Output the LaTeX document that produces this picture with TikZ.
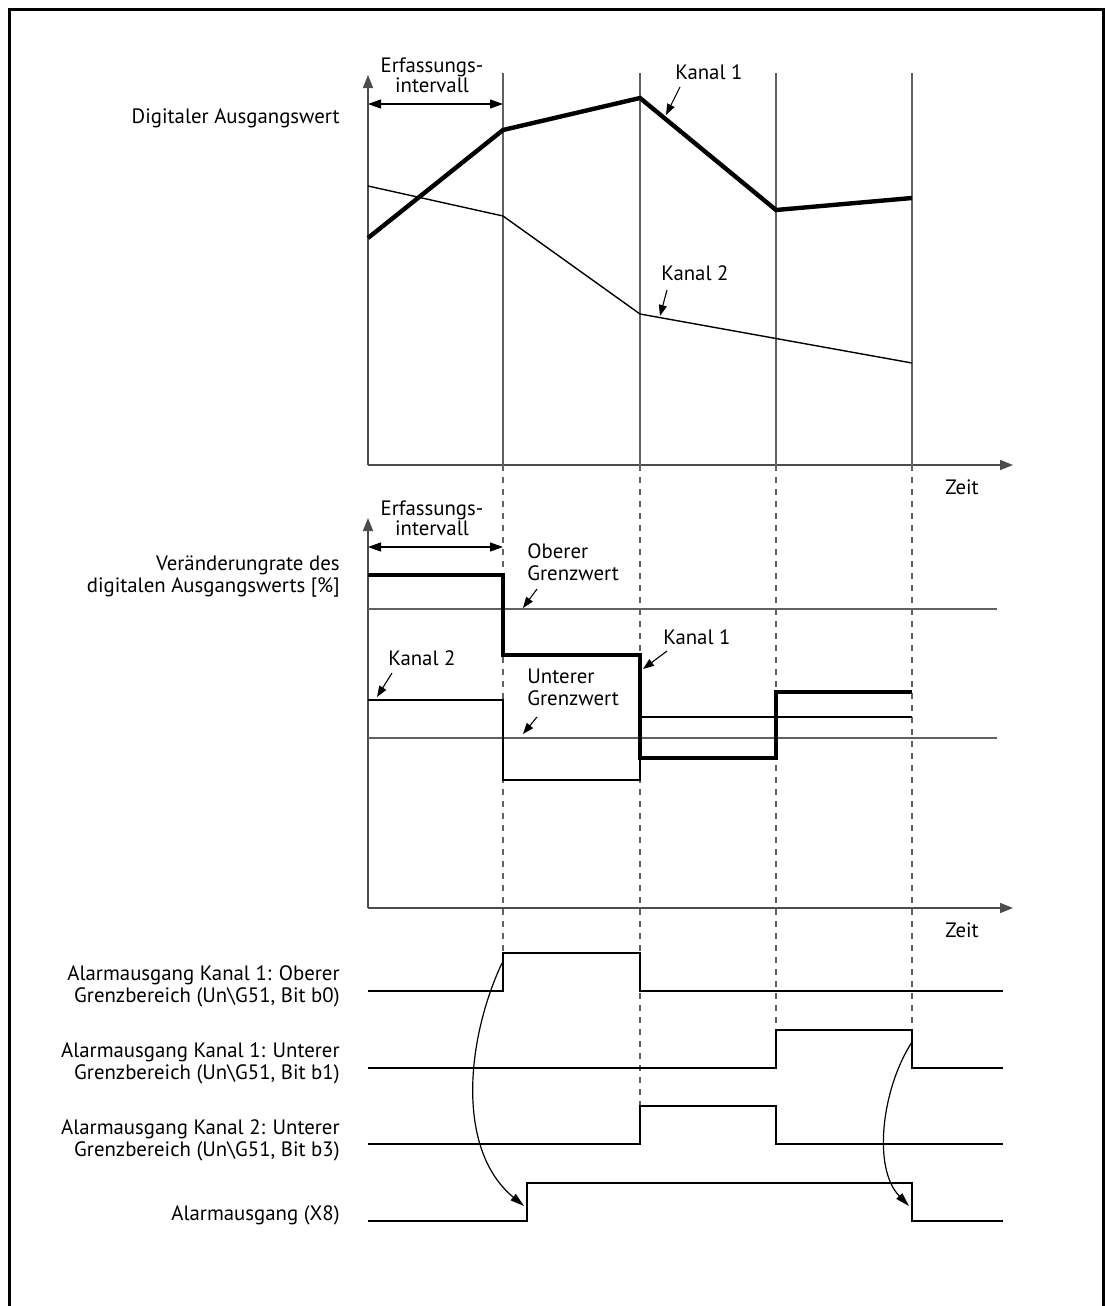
\documentclass[tikz,border=0pt]{standalone}
\usepackage{fontspec}
\setmainfont{PT Sans}
\usetikzlibrary{arrows.meta}
\definecolor{axisgray}{gray}{0.30}
\definecolor{gridgray}{gray}{0.38}
\begin{document}
\begin{tikzpicture}[x=0.5pt,y=-0.5pt,
  font=\fontsize{10.4}{11}\selectfont,
  axis/.style={draw=axisgray, line width=0.8pt, -{Triangle[length=6.5pt,width=5pt]}},
  gridline/.style={draw=gridgray, line width=0.7pt},
  griddash/.style={draw=gridgray, line width=0.7pt, dash pattern=on 3pt off 3pt},
  chthick/.style={line width=2.2pt, line join=miter},
  chthin/.style={line width=0.7pt},
  limitline/.style={draw=gridgray, line width=0.7pt},
  sigline/.style={line width=1pt},
  lbl/.style={inner sep=0pt},
  pointer/.style={-{Triangle[length=5.5pt,width=4pt]}, line width=0.55pt},
  spanarrow/.style={{Triangle[length=6.5pt,width=4.5pt]}-{Triangle[length=6.5pt,width=4.5pt]}, line width=0.6pt},
  curvearrow/.style={-{Triangle[length=7pt,width=4pt]}, line width=0.6pt},
]
\useasboundingbox (0,0) rectangle (1105,1306);

% outer frame, open at the bottom
\draw[line width=1.5pt] (9,1306) -- (9,9) -- (1103,9) -- (1103,1306);

% ---------------- upper chart: digital output value ----------------
\coordinate (o1) at (368,465);
\coordinate (y1top) at (368,75);
\coordinate (x1end) at (1013,465);
\draw[axis] (o1) -- (y1top);
\draw[axis] (o1) -- (x1end);

% sampling instants: solid in the upper chart, dashed below it
\foreach \x/\e in {503/953, 640/1106, 776/1030, 912/1030}{
  \draw[gridline] (\x,73) -- (\x,465);
  \draw[griddash] (\x,465) -- (\x,\e);
}

% channel curves
\draw[chthick] (368,238) -- (503,130) -- (640,98) -- (776,210) -- (912,198);
\draw[chthin] (368,186) -- (503,216) -- (640,314) -- (912,363);

% sampling interval
\node[lbl, align=center] (erf1) at (432,75.5) {Erfassungs-\\[-1pt]intervall};
\coordinate (s1a) at (368,104);
\coordinate (s1b) at (503,104);
\draw[spanarrow] (s1a) -- (s1b);

\node[lbl, anchor=east] (dig) at (340,118) {Digitaler Ausgangswert};

\node[lbl, anchor=west] (k1up) at (675,72) {Kanal 1};
\coordinate (k1upt) at (666,115);
\draw[pointer] (680,87) -- (k1upt);

\node[lbl, anchor=west] (k2up) at (661,273) {Kanal 2};
\coordinate (k2upt) at (660,316);
\draw[pointer] (667,290) -- (k2upt);

\node[lbl] (zeit1) at (962,487) {Zeit};

% ---------------- lower chart: rate of change ----------------
\coordinate (o2) at (368,908);
\coordinate (y2top) at (368,518);
\coordinate (x2end) at (1013,908);
\draw[axis] (o2) -- (y2top);
\draw[axis] (o2) -- (x2end);

% limit values
\draw[limitline] (368,609) -- (997,609);
\draw[limitline] (368,738) -- (997,738);

% channel rates
\draw[chthick] (368,575) -- (503,575) -- (503,655) -- (640,655) -- (640,758)
  -- (776,758) -- (776,692) -- (912,692);
\draw[chthin] (368,700) -- (503,700) -- (503,780) -- (640,780) -- (640,717) -- (912,717);

\node[lbl, align=center] (erf2) at (432,518.5) {Erfassungs-\\[-1pt]intervall};
\coordinate (s2a) at (368,547);
\coordinate (s2b) at (503,547);
\draw[spanarrow] (s2a) -- (s2b);

\node[lbl, anchor=east, align=right] (rate) at (340,577)
  {Veränderungrate des\\digitalen Ausgangswerts [\%]};

\node[lbl, anchor=west, align=left] (obg) at (527,562) {Oberer\\Grenzwert};
\coordinate (obgt) at (523,608);
\draw[pointer] (537,589) -- (obgt);

\node[lbl, anchor=west, align=left] (ung) at (527,687) {Unterer\\Grenzwert};
\coordinate (ungt) at (523,734);
\draw[pointer] (537,717) -- (ungt);

\node[lbl, anchor=west] (k2lo) at (388,658) {Kanal 2};
\coordinate (k2lot) at (377,697);
\draw[pointer] (392,673) -- (k2lot);

\node[lbl, anchor=west] (k1lo) at (663,637) {Kanal 1};
\coordinate (k1lot) at (643,669);
\draw[pointer] (667,651) -- (k1lot);

\node[lbl] (zeit2) at (962,930) {Zeit};

% ---------------- alarm signals ----------------
\draw[sigline] (368,991) -- (503,991) -- (503,953) -- (640,953) -- (640,991) -- (1003,991);
\draw[sigline] (368,1068) -- (776,1068) -- (776,1030) -- (912,1030) -- (912,1068) -- (1003,1068);
\draw[sigline] (368,1144) -- (640,1144) -- (640,1106) -- (776,1106) -- (776,1144) -- (1003,1144);
\draw[sigline] (368,1221) -- (527,1221) -- (527,1183) -- (912,1183) -- (912,1221) -- (1003,1221);

\node[lbl, anchor=east, align=right] (al1) at (340,986)
  {Alarmausgang Kanal 1: Oberer\\Grenzbereich (Un\textbackslash G51, Bit b0)};
\node[lbl, anchor=east, align=right] (al2) at (340,1063)
  {Alarmausgang Kanal 1: Unterer\\Grenzbereich (Un\textbackslash G51, Bit b1)};
\node[lbl, anchor=east, align=right] (al3) at (340,1140)
  {Alarmausgang Kanal 2: Unterer\\Grenzbereich (Un\textbackslash G51, Bit b3)};
\node[lbl, anchor=east] (al4) at (340,1215) {Alarmausgang (X8)};

% cause and effect
\coordinate (c1s) at (502,963);
\coordinate (c1e) at (524,1206);
\draw[curvearrow] (c1s) .. controls (466,1040) and (456,1150) .. (c1e);
\coordinate (c2s) at (912,1042);
\coordinate (c2e) at (909,1206);
\draw[curvearrow] (c2s) .. controls (882,1088) and (872,1168) .. (c2e);
\end{tikzpicture}
\end{document}
